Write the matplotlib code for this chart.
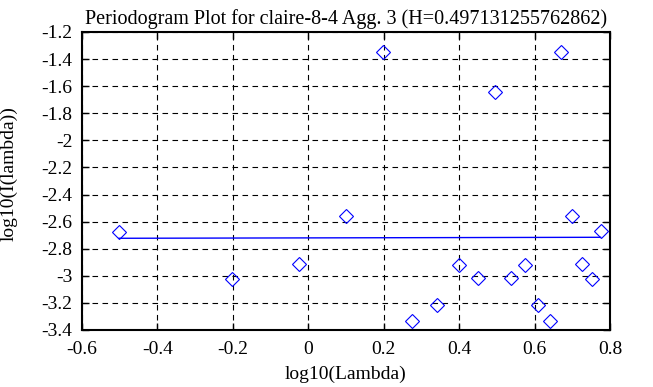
import matplotlib
matplotlib.use("Agg")
import matplotlib.pyplot as plt
import numpy as np

log_lambda = [-0.502, -0.203, -0.024, 0.0995, 0.197, 0.274, 0.341, 0.399, 0.451,
              0.496, 0.537, 0.574, 0.609, 0.641, 0.671, 0.700, 0.725, 0.752, 0.775]
log_I = [-2.676, -3.020, -2.910, -2.556, -1.345, -3.335, -3.212, -2.917, -3.015,
         -1.645, -3.013, -2.917, -3.212, -3.335, -1.345, -2.556, -2.910, -3.020, -2.671]
H = 0.497131255762862
intercept = -2.720
fit_x = [-0.502, 0.775]
xtick_labels = ['-0.6', '-0.4', '-0.2', '0', '0.2', '0.4', '0.6', '0.8']
ytick_labels = ['-3.4', '-3.2', '-3', '-2.8', '-2.6', '-2.4', '-2.2', '-2',
                '-1.8', '-1.6', '-1.4', '-1.2']

plt.rcParams['font.family'] = ['Liberation Serif', 'DejaVu Serif']

fig = plt.figure(figsize=(6.53, 3.87), dpi=100)
ax = fig.add_axes([82/653, 57/387, 528/653, 298/387])

slope = 1 - 2 * H
fy = [intercept + slope * x for x in fit_x]
ax.plot(fit_x, fy, color='#0000ff', lw=1)
ax.plot(log_lambda, log_I, linestyle='none', marker='D', markersize=7.5,
        markerfacecolor='none', markeredgecolor='#0000ff', markeredgewidth=0.8)

ax.set_xlim(-0.6, 0.8)
ax.set_ylim(-3.4, -1.2)
ax.set_xticks(np.linspace(-0.6, 0.8, 8))
ax.set_yticks(np.linspace(-3.4, -1.2, 12))
ax.set_xticklabels(xtick_labels)
ax.set_yticklabels(ytick_labels)
ax.grid(True, color='black', linestyle=(0, (5, 4)), linewidth=0.8)
ax.tick_params(direction='in', top=True, right=True, length=5, width=1,
               labelsize=14, colors='black')
ax.tick_params(axis='x', pad=8)
ax.tick_params(axis='y', pad=7)
for s in ax.spines.values():
    s.set_linewidth(1.5)
ax.set_xlabel('log10(Lambda)', fontsize=14)
ax.xaxis.set_label_coords(0.5, -0.121)
ax.set_ylabel('log10(I(lambda))', fontsize=14)
ax.yaxis.set_label_coords(-0.121, 0.525)
ax.set_title('Periodogram Plot for claire-8-4 Agg. 3 (H=0.497131255762862)',
             fontsize=14.5, pad=6)

fig.savefig('out.png', dpi=100)
